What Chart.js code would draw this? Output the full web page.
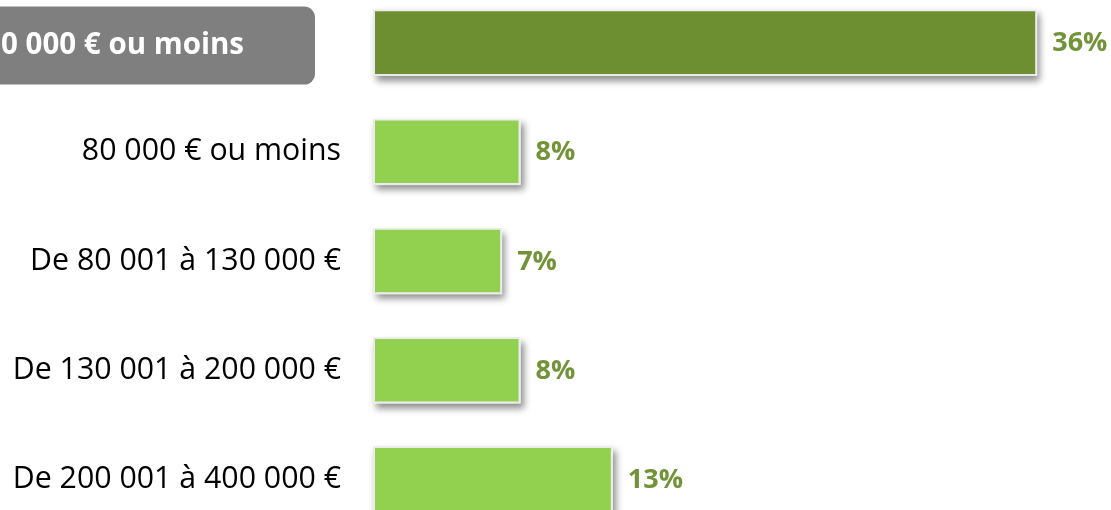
<!DOCTYPE html>
<html lang="fr">
<head>
<meta charset="utf-8">
<script src="https://cdn.jsdelivr.net/npm/chart.js@4/dist/chart.umd.min.js"></script>
<style>
  html, body { margin: 0; padding: 0; background: #fff; overflow: hidden; }
  #wrap { position: relative; width: 1111px; height: 510px; overflow: hidden; }
  #chart { position: absolute; left: 0; top: -12px; }
</style>
</head>
<body>
<div id="wrap"><canvas id="chart" width="1111" height="546"></canvas></div>
<script>
// tranches de prix et part des réponses (%)
const categories = [
  '400 000 € ou moins',
  '80 000 € ou moins',
  'De 80 001 à 130 000 €',
  'De 130 001 à 200 000 €',
  'De 200 001 à 400 000 €',
];
const shares = [36, 8, 7, 8, 13];
const highlighted = [true, false, false, false, false];

const darkGreen = '#6d8f31';
const lightGreen = '#92d050';
const valueColor = '#729337';
const fontFamily = '"Open Sans", "DejaVu Sans", sans-serif';

// ombre portée sous chaque barre
const barShadow = {
  id: 'barShadow',
  beforeDatasetsDraw(chart) {
    const { ctx } = chart;
    const meta = chart.getDatasetMeta(0);
    ctx.save();
    ctx.shadowColor = 'rgba(0,0,0,0.45)';
    ctx.shadowBlur = 7;
    ctx.shadowOffsetX = 3;
    ctx.shadowOffsetY = 5;
    ctx.fillStyle = '#ffffff';
    meta.data.forEach((bar) => {
      const { x, y, base, height } = bar.getProps(['x', 'y', 'base', 'height'], true);
      ctx.fillRect(base, y - height / 2, x - base, height);
    });
    ctx.restore();
  },
};

// libellés de catégories et valeurs
const labelsPlugin = {
  id: 'labelsPlugin',
  afterDatasetsDraw(chart) {
    const { ctx, chartArea } = chart;
    const meta = chart.getDatasetMeta(0);
    ctx.save();
    ctx.textBaseline = 'middle';
    meta.data.forEach((bar, i) => {
      const { x, y } = bar.getProps(['x', 'y'], true);
      if (highlighted[i]) {
        const right = chartArea.left - 58;
        ctx.fillStyle = '#7f7f7f';
        ctx.beginPath();
        ctx.roundRect(-30, y - 36, right + 30, 78, 11);
        ctx.fill();
        ctx.fillStyle = '#ffffff';
        ctx.font = `bold 29.5px ${fontFamily}`;
        ctx.textAlign = 'right';
        ctx.fillText(categories[i], chartArea.left - 129, y + 3);
      } else {
        ctx.fillStyle = '#000000';
        ctx.font = `30.3px ${fontFamily}`;
        ctx.textAlign = 'right';
        ctx.fillText(categories[i], chartArea.left - 32, y);
      }
      ctx.fillStyle = valueColor;
      ctx.font = `bold 27px ${fontFamily}`;
      ctx.textAlign = 'left';
      ctx.fillText(shares[i] + '%', x + 15, y + 1);
    });
    ctx.restore();
  },
};

new Chart(document.getElementById('chart'), {
  type: 'bar',
  data: {
    labels: categories,
    datasets: [{
      data: shares,
      backgroundColor: highlighted.map((h) => (h ? darkGreen : lightGreen)),
      borderColor: '#ebebeb',
      borderWidth: 2,
      borderSkipped: false,
      barPercentage: 0.61,
      categoryPercentage: 1,
    }],
  },
  options: {
    indexAxis: 'y',
    responsive: false,
    animation: false,
    layout: { padding: { left: 373, right: 0, top: 0, bottom: 0 } },
    plugins: { legend: { display: false }, tooltip: { enabled: false } },
    scales: {
      x: { display: false, min: 0, max: 40 },
      y: { display: false },
    },
  },
  plugins: [barShadow, labelsPlugin],
});
</script>
</body>
</html>
